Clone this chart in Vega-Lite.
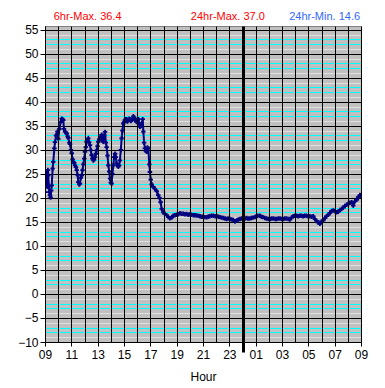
{
  "$schema": "https://vega.github.io/schema/vega-lite/v6.json",
  "width": 316,
  "height": 316,
  "autosize": {"type": "none"},
  "padding": {"left": 45, "top": 26, "right": 24, "bottom": 46},
  "background": "white",
  "config": {
    "view": {"fill": "#c0c0c0", "stroke": "#808080", "strokeWidth": 1},
    "font": "Liberation Sans",
    "axis": {"labelFont": "Liberation Sans", "titleFont": "Liberation Sans"}
  },
  "data": {
    "values": [
      {"h": 0.00, "t": 21.2}, {"h": 0.04, "t": 23.5}, {"h": 0.08, "t": 25.4}, {"h": 0.13, "t": 23.3},
      {"h": 0.18, "t": 22.3}, {"h": 0.22, "t": 25.8}, {"h": 0.25, "t": 24.7}, {"h": 0.29, "t": 22.5},
      {"h": 0.33, "t": 21.2}, {"h": 0.38, "t": 20.6}, {"h": 0.43, "t": 20.1}, {"h": 0.47, "t": 21.5},
      {"h": 0.51, "t": 22.6}, {"h": 0.58, "t": 26.1}, {"h": 0.63, "t": 27.5}, {"h": 0.71, "t": 30.3},
      {"h": 0.76, "t": 31.6}, {"h": 0.84, "t": 33.0}, {"h": 0.94, "t": 33.8}, {"h": 1.01, "t": 32.3},
      {"h": 1.09, "t": 34.4}, {"h": 1.19, "t": 35.8}, {"h": 1.27, "t": 36.5}, {"h": 1.33, "t": 36.4},
      {"h": 1.39, "t": 36.2}, {"h": 1.44, "t": 34.4}, {"h": 1.52, "t": 33.8}, {"h": 1.60, "t": 33.6},
      {"h": 1.65, "t": 33.4}, {"h": 1.72, "t": 32.8}, {"h": 1.77, "t": 32.5}, {"h": 1.85, "t": 31.5},
      {"h": 1.90, "t": 31.2}, {"h": 1.97, "t": 30.0}, {"h": 2.03, "t": 29.3}, {"h": 2.10, "t": 28.0},
      {"h": 2.15, "t": 27.5}, {"h": 2.22, "t": 27.3}, {"h": 2.28, "t": 26.8}, {"h": 2.35, "t": 26.4},
      {"h": 2.41, "t": 25.8}, {"h": 2.47, "t": 24.8}, {"h": 2.53, "t": 23.3}, {"h": 2.60, "t": 22.8},
      {"h": 2.66, "t": 23.0}, {"h": 2.72, "t": 24.2}, {"h": 2.79, "t": 24.7}, {"h": 2.85, "t": 25.8},
      {"h": 2.91, "t": 27.0}, {"h": 2.98, "t": 28.2}, {"h": 3.04, "t": 29.6}, {"h": 3.10, "t": 30.6},
      {"h": 3.16, "t": 31.7}, {"h": 3.23, "t": 32.0}, {"h": 3.29, "t": 32.4}, {"h": 3.35, "t": 31.6},
      {"h": 3.42, "t": 31.0}, {"h": 3.48, "t": 29.9}, {"h": 3.54, "t": 28.9}, {"h": 3.60, "t": 28.2},
      {"h": 3.67, "t": 27.8}, {"h": 3.73, "t": 28.0}, {"h": 3.80, "t": 28.5}, {"h": 3.86, "t": 29.2},
      {"h": 3.92, "t": 29.9}, {"h": 3.99, "t": 30.8}, {"h": 4.05, "t": 31.7}, {"h": 4.12, "t": 32.2},
      {"h": 4.18, "t": 32.4}, {"h": 4.24, "t": 32.8}, {"h": 4.30, "t": 33.1}, {"h": 4.36, "t": 32.0},
      {"h": 4.43, "t": 31.7}, {"h": 4.50, "t": 33.0}, {"h": 4.56, "t": 33.75}, {"h": 4.62, "t": 31.5},
      {"h": 4.68, "t": 30.6}, {"h": 4.75, "t": 28.8}, {"h": 4.81, "t": 26.8}, {"h": 4.88, "t": 25.5},
      {"h": 4.94, "t": 24.0}, {"h": 5.00, "t": 23.2}, {"h": 5.06, "t": 23.0}, {"h": 5.12, "t": 25.0},
      {"h": 5.19, "t": 26.8}, {"h": 5.25, "t": 28.5}, {"h": 5.32, "t": 29.2}, {"h": 5.38, "t": 28.5},
      {"h": 5.44, "t": 27.2}, {"h": 5.51, "t": 26.8}, {"h": 5.57, "t": 26.5}, {"h": 5.63, "t": 26.8},
      {"h": 5.69, "t": 27.8}, {"h": 5.76, "t": 30.0}, {"h": 5.82, "t": 32.4}, {"h": 5.88, "t": 34.0},
      {"h": 5.95, "t": 35.5}, {"h": 6.01, "t": 35.8}, {"h": 6.07, "t": 36.2}, {"h": 6.14, "t": 36.4},
      {"h": 6.20, "t": 36.4}, {"h": 6.26, "t": 35.9}, {"h": 6.33, "t": 36.2}, {"h": 6.39, "t": 36.5},
      {"h": 6.45, "t": 36.4}, {"h": 6.52, "t": 36.0}, {"h": 6.58, "t": 36.2}, {"h": 6.64, "t": 36.5},
      {"h": 6.71, "t": 37.0}, {"h": 6.77, "t": 36.7}, {"h": 6.83, "t": 36.4}, {"h": 6.90, "t": 36.0},
      {"h": 6.96, "t": 35.8}, {"h": 7.02, "t": 36.1}, {"h": 7.09, "t": 36.4}, {"h": 7.15, "t": 35.5},
      {"h": 7.21, "t": 34.8}, {"h": 7.28, "t": 35.0}, {"h": 7.34, "t": 35.5}, {"h": 7.42, "t": 36.4},
      {"h": 7.47, "t": 33.8}, {"h": 7.53, "t": 31.5}, {"h": 7.59, "t": 30.3}, {"h": 7.66, "t": 29.8},
      {"h": 7.72, "t": 29.6}, {"h": 7.78, "t": 30.5}, {"h": 7.85, "t": 30.3}, {"h": 7.92, "t": 27.0},
      {"h": 7.97, "t": 25.4}, {"h": 8.03, "t": 23.8}, {"h": 8.10, "t": 22.8}, {"h": 8.22, "t": 22.3},
      {"h": 8.35, "t": 21.9}, {"h": 8.48, "t": 21.4}, {"h": 8.60, "t": 20.6}, {"h": 8.70, "t": 20.0},
      {"h": 8.78, "t": 19.1}, {"h": 8.86, "t": 17.7}, {"h": 8.98, "t": 17.0}, {"h": 9.10, "t": 16.7},
      {"h": 9.24, "t": 16.4}, {"h": 9.37, "t": 16.0}, {"h": 9.49, "t": 15.75}, {"h": 9.62, "t": 15.9},
      {"h": 9.74, "t": 16.3}, {"h": 9.87, "t": 16.4}, {"h": 10.00, "t": 16.5}, {"h": 10.12, "t": 16.6},
      {"h": 10.25, "t": 16.8}, {"h": 10.38, "t": 16.7}, {"h": 10.50, "t": 16.7}, {"h": 10.63, "t": 16.6},
      {"h": 10.76, "t": 16.65}, {"h": 10.88, "t": 16.5}, {"h": 11.00, "t": 16.6}, {"h": 11.13, "t": 16.5},
      {"h": 11.26, "t": 16.4}, {"h": 11.38, "t": 16.4}, {"h": 11.50, "t": 16.35}, {"h": 11.64, "t": 16.3},
      {"h": 11.77, "t": 16.2}, {"h": 11.88, "t": 16.1}, {"h": 12.00, "t": 16.1}, {"h": 12.14, "t": 16.0},
      {"h": 12.28, "t": 15.96}, {"h": 12.40, "t": 16.1}, {"h": 12.50, "t": 16.2}, {"h": 12.64, "t": 16.3},
      {"h": 12.78, "t": 16.3}, {"h": 12.92, "t": 16.2}, {"h": 13.05, "t": 16.2}, {"h": 13.18, "t": 16.1},
      {"h": 13.30, "t": 16.0}, {"h": 13.42, "t": 15.9}, {"h": 13.55, "t": 15.8}, {"h": 13.68, "t": 15.7},
      {"h": 13.80, "t": 15.6}, {"h": 13.92, "t": 15.7}, {"h": 14.05, "t": 15.6}, {"h": 14.18, "t": 15.5},
      {"h": 14.30, "t": 15.4}, {"h": 14.43, "t": 15.1}, {"h": 14.55, "t": 15.3}, {"h": 14.68, "t": 15.5},
      {"h": 14.81, "t": 15.6}, {"h": 14.94, "t": 15.7}, {"h": 15.06, "t": 15.8}, {"h": 15.18, "t": 15.7},
      {"h": 15.30, "t": 15.8}, {"h": 15.42, "t": 15.7}, {"h": 15.55, "t": 15.7}, {"h": 15.68, "t": 15.8},
      {"h": 15.80, "t": 15.9}, {"h": 15.95, "t": 16.0}, {"h": 16.05, "t": 16.2}, {"h": 16.15, "t": 16.3},
      {"h": 16.32, "t": 16.3}, {"h": 16.44, "t": 16.1}, {"h": 16.55, "t": 16.0}, {"h": 16.70, "t": 15.8},
      {"h": 16.83, "t": 15.7}, {"h": 16.96, "t": 15.6}, {"h": 17.10, "t": 15.6}, {"h": 17.22, "t": 15.7},
      {"h": 17.35, "t": 15.7}, {"h": 17.48, "t": 15.6}, {"h": 17.60, "t": 15.6}, {"h": 17.72, "t": 15.7},
      {"h": 17.85, "t": 15.7}, {"h": 17.98, "t": 15.6}, {"h": 18.10, "t": 15.6}, {"h": 18.22, "t": 15.7},
      {"h": 18.35, "t": 15.7}, {"h": 18.48, "t": 15.6}, {"h": 18.60, "t": 15.5}, {"h": 18.72, "t": 15.9},
      {"h": 18.85, "t": 16.2}, {"h": 18.98, "t": 16.3}, {"h": 19.10, "t": 16.3}, {"h": 19.22, "t": 16.2},
      {"h": 19.35, "t": 16.3}, {"h": 19.48, "t": 16.3}, {"h": 19.60, "t": 16.2}, {"h": 19.72, "t": 16.3},
      {"h": 19.85, "t": 16.3}, {"h": 19.98, "t": 16.2}, {"h": 20.10, "t": 16.2}, {"h": 20.24, "t": 16.1},
      {"h": 20.37, "t": 16.2}, {"h": 20.50, "t": 15.6}, {"h": 20.63, "t": 15.2}, {"h": 20.75, "t": 14.9},
      {"h": 20.88, "t": 14.6}, {"h": 21.00, "t": 15.1}, {"h": 21.13, "t": 15.3}, {"h": 21.26, "t": 15.8},
      {"h": 21.39, "t": 16.2}, {"h": 21.52, "t": 16.5}, {"h": 21.64, "t": 16.9}, {"h": 21.77, "t": 17.3},
      {"h": 21.90, "t": 17.4}, {"h": 22.02, "t": 17.3}, {"h": 22.15, "t": 17.0}, {"h": 22.27, "t": 17.1},
      {"h": 22.40, "t": 17.5}, {"h": 22.53, "t": 17.7}, {"h": 22.65, "t": 18.0}, {"h": 22.78, "t": 18.3},
      {"h": 22.91, "t": 18.6}, {"h": 23.04, "t": 18.8}, {"h": 23.16, "t": 19.0}, {"h": 23.29, "t": 19.1},
      {"h": 23.41, "t": 18.4}, {"h": 23.54, "t": 19.3}, {"h": 23.67, "t": 19.6}, {"h": 23.80, "t": 20.2},
      {"h": 23.92, "t": 20.6}, {"h": 24.00, "t": 20.5}
    ]
  },
  "layer": [
    {
      "mark": {"type": "line", "color": "#000080", "strokeWidth": 2, "clip": true},
      "encoding": {
        "x": {
          "field": "h", "type": "quantitative",
          "scale": {"domain": [0, 24], "nice": false, "zero": false},
          "axis": {
            "orient": "bottom",
            "zindex": 1,
            "values": [0,1,2,3,4,5,6,7,8,9,10,11,12,13,14,15,16,17,18,19,20,21,22,23,24],
            "title": "Hour",
            "titleFontSize": 12, "titleFontWeight": "normal", "titleColor": "black", "titlePadding": 5,
            "labelExpr": "datum.value % 2 == 0 ? (((datum.value + 9) % 24) < 10 ? '0' : '') + ((datum.value + 9) % 24) : ''",
            "labelFontSize": 12, "labelColor": "black", "labelPadding": 3,
            "labelFlush": false, "labelOverlap": false,
            "grid": true, "gridColor": "black", "gridOpacity": 1,
            "gridWidth": {"condition": {"test": "datum.value == 15", "value": 3}, "value": 1},
            "domainColor": "black",
            "tickColor": "black",
            "tickSize": {"condition": {"test": "datum.value == 15", "value": 10}, "value": 4},
            "tickWidth": {"condition": {"test": "datum.value == 15", "value": 3}, "value": 1},
            "tickOpacity": {"condition": {"test": "datum.value % 2 == 1 && datum.value != 15", "value": 0}, "value": 1}
          }
        },
        "y": {
          "field": "t", "type": "quantitative",
          "scale": {"domain": [-10, 55.8], "nice": false, "zero": false},
          "axis": {
            "orient": "left",
            "title": null,
            "values": [-10,-9,-8,-7,-6,-5,-4,-3,-2,-1,0,1,2,3,4,5,6,7,8,9,10,11,12,13,14,15,16,17,18,19,20,21,22,23,24,25,26,27,28,29,30,31,32,33,34,35,36,37,38,39,40,41,42,43,44,45,46,47,48,49,50,51,52,53,54,55],
            "labelExpr": "datum.value % 5 == 0 ? datum.label : ''",
            "labelFontSize": 12, "labelColor": "black", "labelPadding": 2,
            "labelOverlap": false, "labelFlush": false,
            "grid": true, "gridOpacity": 1,
            "gridColor": {"condition": [
              {"test": "datum.value % 5 == 0", "value": "black"},
              {"test": "abs(datum.value % 5) == 2 || abs(datum.value % 5) == 3", "value": "#00ffff"}
            ], "value": "#e0e0e0"},
            "domainColor": "black",
            "tickColor": "black", "tickSize": 5,
            "tickOpacity": {"condition": {"test": "datum.value % 5 != 0", "value": 0}, "value": 1}
          }
        }
      }
    },
    {
      "mark": {"type": "point", "shape": "cross", "filled": true, "color": "#000080", "size": 20, "opacity": 1, "clip": true},
      "encoding": {
        "x": {
          "field": "h", "type": "quantitative",
          "axis": {
            "orient": "top",
            "values": [3.2, 13.85, 21.2],
            "labelExpr": "datum.value < 5 ? '6hr-Max. 36.4' : datum.value < 16 ? '24hr-Max. 37.0' : '24hr-Min. 14.6'",
            "labelColor": {"condition": {"test": "datum.value > 16", "value": "#3366ff"}, "value": "#ff0000"},
            "labelFontSize": 11, "labelPadding": 5,
            "domain": false, "ticks": false, "grid": false, "title": null,
            "labelOverlap": false, "labelFlush": false
          }
        },
        "y": {"field": "t", "type": "quantitative", "axis": null}
      }
    }
  ],
  "resolve": {"axis": {"x": "independent", "y": "independent"}}
}
